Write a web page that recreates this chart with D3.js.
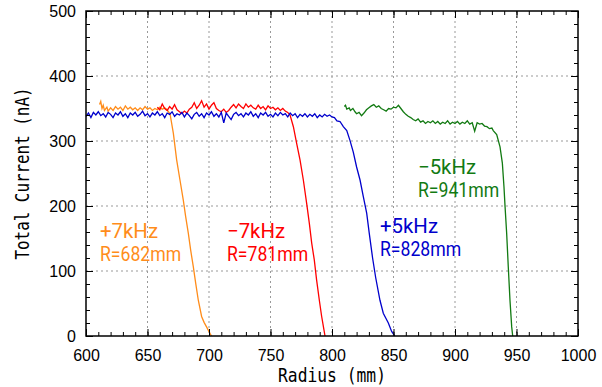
<!DOCTYPE html>
<html>
<head>
<meta charset="utf-8">
<script src="https://cdn.jsdelivr.net/npm/d3@7"></script>
<style>
  body { margin: 0; background: #fff; }
  svg { display: block; }
</style>
</head>
<body>
<div id="chart"></div>
<script>
// tick values
var xTicks = [600, 650, 700, 750, 800, 850, 900, 950, 1000];
var yTicks = [0, 100, 200, 300, 400, 500];

// series data: [radius mm, current nA]
var plus7 = [[611,356],[612,361],[613,350],[614,355],[615,347],[617,352],[618,346],[620,351],[622,347],[624,353],
  [626,349],[628,352],[630,347],[632,354],[634,349],[636,352],[638,348],[640,351],[642,347],[644,351],[646,348],
  [648,353],[650,349],[652,351],[654,347],[656,350],[658,348],[660,352],[662,349],[664,351],[666,348],[667,345],
  [668.3,342],[671,312],[673.7,271],[676.4,240],[679.1,209],[681,184],[683.2,158],[685.1,132],[687.2,107],
  [689.2,81],[691.3,55],[694,30],[696,21],[698,14],[700.8,4],[702,0]];

var minus7 = [[658,352],[660,348],[662,357],[664,350],[666,347],[668,353],[670,349],[672,356],[674,348],[676,345],
  [678,342],[680,346],[682,343],[684,349],[686,352],[688,359],[690,350],[692,355],[694,362],[696,352],[698,357],
  [700,349],[702,355],[704,359],[706,350],[708,347],[710,345],[712,349],[714,344],[716,347],[718,352],[720,356],
  [722,351],[724,357],[726,353],[728,350],[730,357],[732,352],[734,355],[736,351],[738,349],[740,355],[742,350],
  [744,353],[746,348],[748,354],[750,350],[752,352],[754,348],[756,351],[758,347],[760,350],[762,346],[764,344],
  [765.9,340],[768.6,322],[771.3,296],[774,271],[776.7,240],[779.4,204],[781.6,173],[783.5,143],[785.6,117],
  [787.5,86],[789.7,55],[791.6,30],[793.5,9],[794.3,0]];

var plus5 = [[600,338],[602,343],[604,336],[606,344],[608,340],[610,345],[612,339],[614,342],[616,337],[618,344],
  [620,341],[622,336],[624,343],[626,340],[628,345],[630,338],[632,342],[634,336],[636,343],[638,340],[640,344],
  [642,338],[644,341],[646,346],[648,339],[650,342],[652,337],[654,343],[656,340],[658,345],[660,339],[662,342],
  [664,336],[666,343],[668,341],[670,345],[672,338],[674,342],[676,340],[678,344],[680,337],[682,343],[684,339],
  [686,334],[688,341],[690,344],[692,338],[694,342],[696,336],[698,343],[700,340],[702,345],[704,338],[706,342],
  [708,337],[710,344],[712,328],[714,343],[716,338],[718,333],[720,341],[722,344],[724,339],[726,342],[728,337],
  [730,343],[732,340],[734,345],[736,338],[738,342],[740,336],[742,343],[744,340],[746,344],[748,338],[750,341],
  [752,337],[754,343],[756,339],[758,344],[760,340],[762,342],[764,337],[766,343],[768,339],[770,342],[772,336],
  [774,341],[776,338],[778,342],[780,337],[782,341],[784,338],[786,342],[788,336],[790,340],[792,337],[794,341],
  [796,338],[798,340],[800,337],[802,336],[804,331],[806.5,330],[809.2,322],[812,316],[814.6,301],[817.3,283],
  [820,260],[822.8,240],[825.5,214],[828.2,189],[830.3,158],[833,120],[835.5,90],[839,55],[841.7,35],
  [845.8,20],[848.5,7],[851,0]];

var minus5 = [[810,353],[811,355],[812,349],[814,351],[815,347],[817,350],[818.7,345],[820,342],[822,344],
  [824,339],[826,343],[828,348],[830,351],[832,354],[834,356],[836,352],[838,354],[840,350],[842,348],[844,346],
  [846,350],[848,349],[850,352],[852,351],[854,355],[856,350],[858,345],[860,341],[862,338],[864,336],[866,333],
  [868,331],[870,334],[872,329],[874,331],[876,327],[878,330],[880,328],[882,331],[884,327],[886,330],[888,326],
  [890,329],[892,327],[894,331],[896,326],[898,329],[900,327],[902,330],[904,326],[906,329],[908,327],[910,331],
  [912,326],[914,328],[916,315],[918,328],[920,326],[922,327],[924,323],[926,322],[928,319],[930,320],[931.1,316],
  [933.9,310],[936.6,291],[938.5,266],[939.8,230],[940.7,199],[942,158],[943.3,107],[944.7,55],[946.1,14],[946.9,0]];

var seriesColors = ['#ff8c1a', '#ff0000', '#0000cc', '#127a12'];
var seriesData = [plus7, minus7, plus5, minus5];
var labelLines = [['+7kHz', 'R=682mm'], ['\u22127kHz', 'R=781mm'], ['+5kHz', 'R=828mm'], ['\u22125kHz', 'R=941mm']];
var labelPos = [[100, 238], [227, 238], [380, 233], [418, 174]];

var width = 602, height = 387;
var margin = {top: 11, right: 24, bottom: 51, left: 86};
var w = width - margin.left - margin.right;
var h = height - margin.top - margin.bottom;

var svg = d3.select('#chart').append('svg')
    .attr('width', width)
    .attr('height', height);

var g = svg.append('g')
    .attr('transform', 'translate(' + margin.left + ',' + margin.top + ')');

var xScale = d3.scaleLinear().domain([600, 1000]).range([0, w]);
var yScale = d3.scaleLinear().domain([0, 500]).range([h, 0]);

// dotted grid
g.selectAll('.gx')
    .data(xTicks.slice(1, -1))
    .enter().append('line')
      .attr('x1', function(d) { return xScale(d); })
      .attr('x2', function(d) { return xScale(d); })
      .attr('y1', 0).attr('y2', h)
      .attr('stroke', '#999').attr('stroke-dasharray', '2,3');

g.selectAll('.gy')
    .data(yTicks.slice(1, -1))
    .enter().append('line')
      .attr('y1', function(d) { return yScale(d); })
      .attr('y2', function(d) { return yScale(d); })
      .attr('x1', 0).attr('x2', w)
      .attr('stroke', '#999').attr('stroke-dasharray', '2,3');

// data lines
var line = d3.line()
    .x(function(d) { return xScale(d[0]); })
    .y(function(d) { return yScale(d[1]); });

g.selectAll('.series')
    .data(seriesData)
    .enter().append('path')
      .attr('fill', 'none')
      .attr('stroke', function(d, i) { return seriesColors[i]; })
      .attr('stroke-width', 1.3)
      .attr('d', line);

// axes with inward ticks on all sides
function styleAxis(sel) {
  sel.select('.domain').remove();
  sel.selectAll('line').attr('stroke', '#000');
  sel.selectAll('text').attr('fill', '#000')
      .style('font-family', 'Liberation Sans, Arial, sans-serif')
      .style('font-size', '16px');
}

var xMinor = d3.range(600, 1001, 10);
var yMinor = d3.range(0, 501, 20);

g.append('g').attr('transform', 'translate(0,' + h + ')')
    .call(d3.axisBottom(xScale).tickValues(xMinor).tickSize(-4).tickFormat(''))
    .call(styleAxis);
g.append('g').attr('transform', 'translate(0,' + h + ')')
    .call(d3.axisBottom(xScale).tickValues(xTicks).tickSize(-7).tickPadding(14).tickFormat(d3.format('d')))
    .call(styleAxis);
g.append('g')
    .call(d3.axisTop(xScale).tickValues(xMinor).tickSize(-4).tickFormat(''))
    .call(styleAxis);
g.append('g')
    .call(d3.axisTop(xScale).tickValues(xTicks).tickSize(-7).tickFormat(''))
    .call(styleAxis);

g.append('g')
    .call(d3.axisLeft(yScale).tickValues(yMinor).tickSize(-4).tickFormat(''))
    .call(styleAxis);
g.append('g')
    .call(d3.axisLeft(yScale).tickValues(yTicks).tickSize(-7).tickPadding(10).tickFormat(d3.format('d')))
    .call(styleAxis);
g.append('g').attr('transform', 'translate(' + w + ',0)')
    .call(d3.axisRight(yScale).tickValues(yMinor).tickSize(-4).tickFormat(''))
    .call(styleAxis);
g.append('g').attr('transform', 'translate(' + w + ',0)')
    .call(d3.axisRight(yScale).tickValues(yTicks).tickSize(-7).tickFormat(''))
    .call(styleAxis);

// frame
g.append('rect')
    .attr('width', w).attr('height', h)
    .attr('fill', 'none').attr('stroke', '#000').attr('stroke-width', 1.5);

// axis titles
svg.append('text')
    .attr('x', margin.left + w / 2)
    .attr('y', 382)
    .attr('text-anchor', 'middle')
    .attr('textLength', 108)
    .attr('lengthAdjust', 'spacingAndGlyphs')
    .style('font-family', 'DejaVu Sans Mono, Noto Sans CJK JP, monospace')
    .style('font-size', '20px')
    .text('Radius (mm)');

svg.append('text')
    .attr('transform', 'translate(29,' + (margin.top + h / 2) + ') rotate(-90)')
    .attr('text-anchor', 'middle')
    .attr('textLength', 172)
    .attr('lengthAdjust', 'spacingAndGlyphs')
    .style('font-family', 'DejaVu Sans Mono, Noto Sans CJK JP, monospace')
    .style('font-size', '19px')
    .text('Total Current (nA)');

// annotations, one text per line
labelLines.forEach(function(lines, i) {
  lines.forEach(function(s, j) {
    svg.append('text')
        .attr('x', labelPos[i][0])
        .attr('y', labelPos[i][1] + j * 23)
        .attr('fill', seriesColors[i])
        .attr('textLength', s.length * 11.6)
        .attr('lengthAdjust', 'spacingAndGlyphs')
        .style('font-family', 'Roboto, Liberation Sans, sans-serif')
        .style('font-size', '20px')
        .text(s);
  });
});
</script>
</body>
</html>
